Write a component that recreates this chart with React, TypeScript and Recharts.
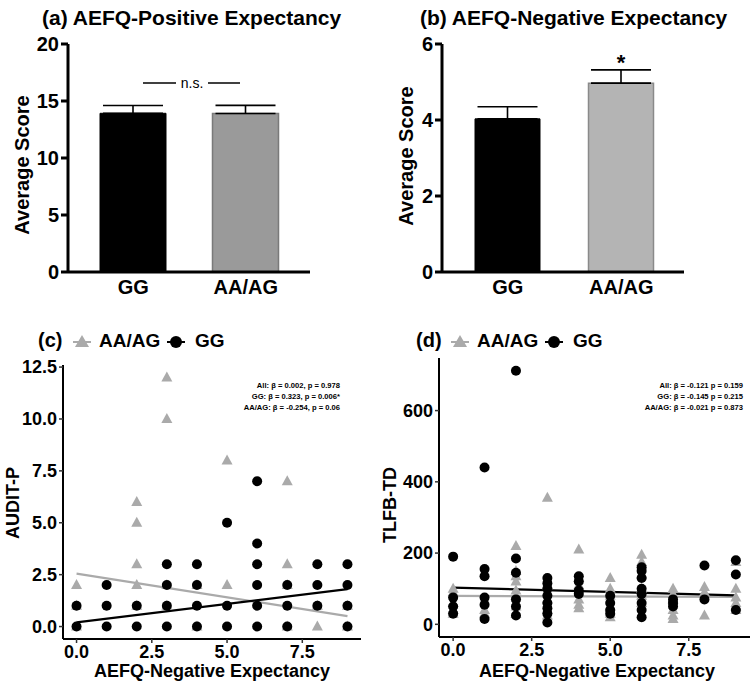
import React from "react"
import {
  BarChart,
  Bar,
  Cell,
  ErrorBar,
  ScatterChart,
  Scatter,
  XAxis,
  YAxis,
  ReferenceLine,
} from "recharts"

// ---- data ----
const groups = ["GG", "AA/AG"]
const posMean = [13.92, 13.9]
const posSem = [0.68, 0.72]
const negMean = [4.03, 4.97]
const negSem = [0.32, 0.35]

// panel (c): AEFQ-negative expectancy vs AUDIT-P
const auditGG: [number, number][] = [
  [0, 1], [0, 0],
  [1, 2], [1, 1], [1, 0],
  [2, 1], [2, 0],
  [3, 3], [3, 2], [3, 1], [3, 0],
  [4, 3], [4, 2], [4, 1], [4, 0],
  [5, 5], [5, 1], [5, 0],
  [6, 7], [6, 4], [6, 3], [6, 2], [6, 1], [6, 0],
  [7, 2], [7, 1], [7, 0],
  [8, 3], [8, 2], [8, 1],
  [9, 3], [9, 2], [9, 1], [9, 0],
]
const auditAA: [number, number][] = [
  [0, 2], [0, 1], [0, 0],
  [2, 6], [2, 5], [2, 3], [2, 2], [2, 1],
  [3, 12], [3, 10], [3, 2], [3, 1],
  [4, 2], [4, 0],
  [5, 8], [5, 2],
  [7, 7], [7, 3], [7, 2], [7, 0],
  [8, 1], [8, 0],
  [9, 1], [9, 0],
]
const auditFitGG = [[0, 0.2], [9, 1.8]]
const auditFitAA = [[0, 2.55], [9, 0.5]]

// panel (d): AEFQ-negative expectancy vs TLFB-TD
const tlfbGG: [number, number][] = [
  [0, 190], [0, 75], [0, 50], [0, 30],
  [1, 440], [1, 155], [1, 135], [1, 75], [1, 55], [1, 15],
  [2, 712], [2, 185], [2, 145], [2, 70], [2, 50], [2, 25],
  [3, 130], [3, 115], [3, 100], [3, 80], [3, 60], [3, 45], [3, 30], [3, 5],
  [4, 135], [4, 120], [4, 95], [4, 85],
  [5, 80], [5, 60], [5, 40], [5, 30],
  [6, 160], [6, 150], [6, 130], [6, 100], [6, 85], [6, 60], [6, 40], [6, 20],
  [7, 70], [7, 60], [7, 50],
  [8, 165], [8, 70],
  [9, 180], [9, 140], [9, 40],
]
const tlfbAA: [number, number][] = [
  [0, 100], [0, 90], [0, 60], [0, 40], [0, 30],
  [1, 40], [1, 30],
  [2, 220], [2, 150], [2, 135], [2, 120], [2, 95], [2, 80], [2, 50], [2, 30],
  [3, 355], [3, 110], [3, 90], [3, 70], [3, 40], [3, 25],
  [4, 210], [4, 130], [4, 110], [4, 70], [4, 55], [4, 45],
  [5, 130], [5, 100], [5, 80], [5, 50], [5, 30], [5, 20],
  [6, 195], [6, 175], [6, 140], [6, 100], [6, 80], [6, 60],
  [7, 100], [7, 85], [7, 70], [7, 40], [7, 25], [7, 15],
  [8, 105], [8, 90], [8, 25],
  [9, 175], [9, 100], [9, 75], [9, 60], [9, 50], [9, 40],
]
const tlfbFitGG = [[0, 103], [9, 81]]
const tlfbFitAA = [[0, 80], [9, 77]]

const auditStats = [
  "All: β = 0.002, p = 0.978",
  "GG: β = 0.323, p = 0.006*",
  "AA/AG: β = -0.254, p = 0.06",
]
const tlfbStats = [
  "All: β = -0.121  p = 0.159",
  "GG: β = -0.145  p = 0.215",
  "AA/AG: β = -0.021  p = 0.873",
]

const FONT = "'Liberation Sans', Arial, sans-serif"
const GRAY = "#aaaaaa"

const barRows = (means: number[], sems: number[]) =>
  groups.map((g, i) => ({ group: g, value: means[i], err: [0, sems[i]] }))
const pts = (arr: [number, number][]) => arr.map(([x, y]) => ({ x, y }))
const seg = (arr: number[][]) => arr.map(([x, y]) => ({ x, y }))

const tickStyle = { fontSize: 20, fontWeight: 700, fill: "#000", fontFamily: FONT }
const scatterTick = { fontSize: 18, fontWeight: 700, fill: "#000", fontFamily: FONT }

const Dot = (p: any) => <circle cx={p.cx} cy={p.cy} r={5} fill="#000" />
const Tri = (p: any) => (
  <polygon
    points={`${p.cx},${p.cy - 6} ${p.cx - 5.5},${p.cy + 4} ${p.cx + 5.5},${p.cy + 4}`}
    fill={GRAY}
  />
)

function BarPanel({
  means,
  sems,
  domain,
  ticks,
  yWidth,
  right,
  barSize,
  pad,
  grayFill,
  grayStroke,
}: {
  means: number[]
  sems: number[]
  domain: [number, number]
  ticks: number[]
  yWidth: number
  right: number
  barSize: number
  pad: { left: number; right: number }
  grayFill: string
  grayStroke: string
}) {
  return (
    <BarChart
      width={378}
      height={310}
      data={barRows(means, sems)}
      margin={{ top: 44, right, bottom: 8, left: 0 }}
    >
      <XAxis
        dataKey="group"
        padding={pad}
        tickLine={false}
        axisLine={{ stroke: "#000", strokeWidth: 3 }}
        tick={tickStyle}
        height={30}
      />
      <YAxis
        domain={domain}
        ticks={ticks}
        width={yWidth}
        tickSize={7}
        tickMargin={2}
        axisLine={{ stroke: "#000", strokeWidth: 3 }}
        tickLine={{ stroke: "#000", strokeWidth: 3 }}
        tick={tickStyle}
      />
      <Bar dataKey="value" barSize={barSize} isAnimationActive={false}>
        <Cell fill="#000" stroke="#000" />
        <Cell fill={grayFill} stroke={grayStroke} strokeWidth={1.5} />
        <ErrorBar dataKey="err" width={30} stroke="#000" strokeWidth={1.6} direction="y" />
      </Bar>
    </BarChart>
  )
}

function ScatterPanel({
  gg,
  aa,
  fitGG,
  fitAA,
  yDomain,
  yTicks,
  yFmt,
  yWidth,
  top,
  right,
  bottom,
}: {
  gg: [number, number][]
  aa: [number, number][]
  fitGG: number[][]
  fitAA: number[][]
  yDomain: [number, number]
  yTicks: number[]
  yFmt: (v: number) => string
  yWidth: number
  top: number
  right: number
  bottom: number
}) {
  return (
    <ScatterChart width={378} height={366} margin={{ top, right, bottom, left: 0 }}>
      <XAxis
        type="number"
        dataKey="x"
        domain={[-0.45, 9.45]}
        ticks={[0, 2.5, 5, 7.5]}
        tickFormatter={(v: number) => v.toFixed(1)}
        tickSize={4}
        tickMargin={2}
        axisLine={{ stroke: "#000", strokeWidth: 2 }}
        tickLine={{ stroke: "#333", strokeWidth: 1.5 }}
        tick={scatterTick}
        height={30}
      />
      <YAxis
        type="number"
        dataKey="y"
        domain={yDomain}
        ticks={yTicks}
        tickFormatter={yFmt}
        width={yWidth}
        tickSize={4}
        tickMargin={2}
        axisLine={{ stroke: "#000", strokeWidth: 2 }}
        tickLine={{ stroke: "#333", strokeWidth: 1.5 }}
        tick={scatterTick}
      />
      <Scatter data={pts(aa)} shape={Tri} isAnimationActive={false} />
      <Scatter data={pts(gg)} shape={Dot} isAnimationActive={false} />
      <ReferenceLine segment={seg(fitAA)} stroke={GRAY} strokeWidth={2.2} />
      <ReferenceLine segment={seg(fitGG)} stroke="#000" strokeWidth={2.2} />
    </ScatterChart>
  )
}

function LegendKeys({ x, label }: { x: number; label: string }) {
  const y = 342
  return (
    <g>
      <text x={x} y={347} fontSize={20} fontWeight={700} fontFamily={FONT}>
        {label}
      </text>
      <line x1={x + 35} x2={x + 53} y1={y} y2={y} stroke={GRAY} strokeWidth={2} />
      <polygon
        points={`${x + 44},${y - 7} ${x + 37},${y + 5} ${x + 51},${y + 5}`}
        fill={GRAY}
      />
      <text x={x + 61} y={347} fontSize={19} fontWeight={700} fontFamily={FONT}>
        AA/AG
      </text>
      <line x1={x + 129} x2={x + 147} y1={y} y2={y} stroke="#000" strokeWidth={2} />
      <circle cx={x + 138} cy={y} r={6} fill="#000" />
      <text x={x + 157} y={347} fontSize={19} fontWeight={700} fontFamily={FONT}>
        GG
      </text>
    </g>
  )
}

export default function App() {
  const statStyle = {
    fontSize: 7.6,
    fontWeight: 700,
    fontFamily: "'Liberation Sans Narrow', 'Arial Narrow', " + FONT,
  }
  return (
    <div
      style={{
        position: "absolute",
        left: 0,
        top: 0,
        width: 756,
        height: 686,
        background: "#fff",
        fontFamily: FONT,
      }}
    >
      <div style={{ position: "absolute", left: 0, top: 0 }}>
        <BarPanel
          means={posMean}
          sems={posSem}
          domain={[0, 20]}
          ticks={[0, 5, 10, 15, 20]}
          yWidth={68}
          right={68}
          barSize={66}
          pad={{ left: 9, right: 8 }}
          grayFill="#9a9a9a"
          grayStroke="#7a7a7a"
        />
      </div>
      <div style={{ position: "absolute", left: 378, top: 0 }}>
        <BarPanel
          means={negMean}
          sems={negSem}
          domain={[0, 6]}
          ticks={[0, 2, 4, 6]}
          yWidth={64}
          right={72}
          barSize={65}
          pad={{ left: 9, right: 6 }}
          grayFill="#b4b4b4"
          grayStroke="#8a8a8a"
        />
      </div>
      <div style={{ position: "absolute", left: 0, top: 320 }}>
        <ScatterPanel
          gg={auditGG}
          aa={auditAA}
          fitGG={auditFitGG}
          fitAA={auditFitAA}
          yDomain={[-0.6, 12.6]}
          yTicks={[0, 2.5, 5, 7.5, 10, 12.5]}
          yFmt={(v) => v.toFixed(1)}
          yWidth={63}
          top={45}
          right={17}
          bottom={17}
        />
      </div>
      <div style={{ position: "absolute", left: 378, top: 320 }}>
        <ScatterPanel
          gg={tlfbGG}
          aa={tlfbAA}
          fitGG={tlfbFitGG}
          fitAA={tlfbFitAA}
          yDomain={[-35.6, 747.6]}
          yTicks={[0, 200, 400, 600]}
          yFmt={(v) => String(v)}
          yWidth={61}
          top={38}
          right={6}
          bottom={19}
        />
      </div>

      {/* titles, axis titles, legends and annotations */}
      <svg
        width={756}
        height={686}
        style={{ position: "absolute", left: 0, top: 0, pointerEvents: "none" }}
      >
        <text x={42} y={25} fontSize={21} fontWeight={700} fontFamily={FONT}>
          (a) AEFQ-Positive Expectancy
        </text>
        <text x={420} y={25} fontSize={21} fontWeight={700} fontFamily={FONT}>
          (b) AEFQ-Negative Expectancy
        </text>
        <text
          transform="translate(29,165) rotate(-90)"
          textAnchor="middle"
          fontSize={20}
          fontWeight={700}
          fontFamily={FONT}
        >
          Average Score
        </text>
        <text
          transform="translate(413,156) rotate(-90)"
          textAnchor="middle"
          fontSize={20}
          fontWeight={700}
          fontFamily={FONT}
        >
          Average Score
        </text>

        <line x1={143} x2={176} y1={83} y2={83} stroke="#000" strokeWidth={1.5} />
        <line x1={208} x2={240} y1={83} y2={83} stroke="#000" strokeWidth={1.5} />
        <text x={192} y={88} textAnchor="middle" fontSize={14} fontFamily={FONT}>
          n.s.
        </text>
        <text x={621} y={70} textAnchor="middle" fontSize={22} fontWeight={700} fontFamily={FONT}>
          *
        </text>

        <LegendKeys x={38} label="(c)" />
        <LegendKeys x={416} label="(d)" />

        <text
          transform="translate(19,503) rotate(-90)"
          textAnchor="middle"
          fontSize={18}
          fontWeight={700}
          fontFamily={FONT}
        >
          AUDIT-P
        </text>
        <text
          transform="translate(396,505) rotate(-90)"
          textAnchor="middle"
          fontSize={18}
          fontWeight={700}
          fontFamily={FONT}
        >
          TLFB-TD
        </text>
        <text x={212} y={677} textAnchor="middle" fontSize={18} fontWeight={700} fontFamily={FONT}>
          AEFQ-Negative Expectancy
        </text>
        <text x={597} y={677} textAnchor="middle" fontSize={18} fontWeight={700} fontFamily={FONT}>
          AEFQ-Negative Expectancy
        </text>

        {auditStats.map((s, i) => (
          <text key={s} x={340} y={388 + i * 11} textAnchor="end" {...statStyle}>
            {s}
          </text>
        ))}
        {tlfbStats.map((s, i) => (
          <text key={s} x={743} y={388 + i * 11} textAnchor="end" {...statStyle}>
            {s}
          </text>
        ))}
      </svg>
    </div>
  )
}
